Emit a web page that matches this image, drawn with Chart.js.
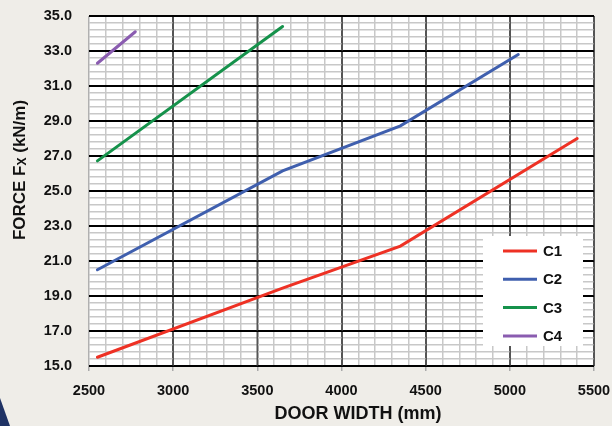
<!DOCTYPE html>
<html>
<head>
<meta charset="utf-8">
<script src="https://cdn.jsdelivr.net/npm/chart.js@4.4.1/dist/chart.umd.min.js"></script>
<style>
    html, body { margin: 0; padding: 0; background: #efede8; }
    #wrap { position: relative; width: 612px; height: 426px; }
    #corner {
        position: absolute; left: 0; top: 0; width: 612px; height: 426px;
        background: #1f3264;
        clip-path: polygon(0 398px, 10px 426px, 0 426px);
    }
    canvas { position: absolute; left: 0; top: 0; }
</style>
</head>
<body>
<div id="wrap">
    <div id="corner"></div>
    <canvas id="forceChart" width="612" height="426"></canvas>
</div>
<script>
// values
const seriesNames = ['C1', 'C2', 'C3', 'C4'];
const seriesColors = ['#ee3124', '#3f5fae', '#15924b', '#8a5cb0'];

const c1Width = [2550, 3650, 4350, 5400];
const c1Force = [15.5, 19.45, 21.85, 28.0];
const c2Width = [2550, 3650, 4350, 5050];
const c2Force = [20.5, 26.15, 28.72, 32.8];
const c3Width = [2550, 3650];
const c3Force = [26.72, 34.4];
const c4Width = [2550, 2775];
const c4Force = [32.3, 34.1];

const widths = [c1Width, c2Width, c3Width, c4Width];
const forces = [c1Force, c2Force, c3Force, c4Force];

const xMin = 2500, xMax = 5500, xMinor = 100, xMajor = 500;
const yMin = 15, yMax = 35, yMinor = 0.4, yMajor = 2;

const isMajorY = v => Math.round((v - yMin) * 10) % Math.round(yMajor * 10) === 0;
const isMajorX = v => Math.round(v) % xMajor === 0;

const toPoints = (xs, ys) => xs.map((x, i) => ({ x: x, y: ys[i] }));

const plotBackground = {
    id: 'plotBackground',
    beforeDraw(chart) {
        const { ctx, chartArea: a } = chart;
        ctx.save();
        ctx.fillStyle = '#ffffff';
        ctx.fillRect(a.left, a.top, a.right - a.left, a.bottom - a.top);
        ctx.restore();
    }
};

// put the major grid lines back on top of the minor ones
const majorGrid = {
    id: 'majorGrid',
    beforeDatasetsDraw(chart) {
        const { ctx, chartArea: a, scales } = chart;
        ctx.save();
        ctx.lineWidth = 1.5;
        ctx.strokeStyle = '#555555';
        for (let v = xMin + xMajor; v <= xMax; v += xMajor) {
            const px = Math.round(scales.x.getPixelForValue(v)) + 0.25;
            ctx.beginPath();
            ctx.moveTo(px, a.top);
            ctx.lineTo(px, a.bottom);
            ctx.stroke();
        }
        ctx.strokeStyle = '#000000';
        for (let v = yMin; v <= yMax + 0.001; v += yMajor) {
            const py = Math.round(scales.y.getPixelForValue(v)) + 0.25;
            ctx.beginPath();
            ctx.moveTo(a.left, py);
            ctx.lineTo(a.right, py);
            ctx.stroke();
        }
        ctx.restore();
    }
};

// axis titles (y title needs a subscript X)
const axisTitles = {
    id: 'axisTitles',
    afterDraw(chart) {
        const { ctx } = chart;
        ctx.save();
        ctx.fillStyle = '#111';
        ctx.textBaseline = 'middle';
        ctx.font = 'bold 18px "Liberation Sans", Arial, sans-serif';
        ctx.textAlign = 'center';
        ctx.fillText('DOOR WIDTH (mm)', 358, 414);

        ctx.translate(20, 170);
        ctx.rotate(-Math.PI / 2);
        const big = 'bold 17px "Liberation Sans", Arial, sans-serif';
        const small = 'bold 12px "Liberation Sans", Arial, sans-serif';
        const p1 = 'FORCE F', p2 = 'X', p3 = ' (kN/m)';
        ctx.font = big;
        const w1 = ctx.measureText(p1).width, w3 = ctx.measureText(p3).width;
        ctx.font = small;
        const w2 = ctx.measureText(p2).width;
        let x = -(w1 + w2 + w3) / 2;
        ctx.textAlign = 'left';
        ctx.font = big;
        ctx.fillText(p1, x, 0);
        x += w1;
        ctx.font = small;
        ctx.fillText(p2, x, 3);
        x += w2;
        ctx.font = big;
        ctx.fillText(p3, x, 0);
        ctx.restore();
    }
};

const boxLegend = {
    id: 'boxLegend',
    afterDatasetsDraw(chart) {
        const { ctx } = chart;
        ctx.save();
        ctx.fillStyle = '#ffffff';
        ctx.fillRect(483, 236, 100, 110);
        ctx.font = 'bold 15px "Liberation Sans", Arial, sans-serif';
        ctx.textBaseline = 'middle';
        ctx.textAlign = 'left';
        chart.data.datasets.forEach((ds, i) => {
            const y = 251 + i * 28.3;
            ctx.strokeStyle = ds.borderColor;
            ctx.lineWidth = 3;
            ctx.beginPath();
            ctx.moveTo(503, y);
            ctx.lineTo(537, y);
            ctx.stroke();
            ctx.fillStyle = '#111';
            ctx.fillText(ds.label, 543, y + 1);
        });
        ctx.restore();
    }
};

const tickFont = { family: '"Liberation Sans", Arial, sans-serif', size: 14.5, weight: 'bold' };

new Chart(document.getElementById('forceChart'), {
    type: 'line',
    data: {
        datasets: seriesNames.map((name, i) => ({
            label: name,
            data: toPoints(widths[i], forces[i]),
            borderColor: seriesColors[i],
            borderWidth: 3,
            borderCapStyle: 'round',
            pointRadius: 0,
            tension: 0,
            fill: false
        }))
    },
    options: {
        responsive: false,
        animation: false,
        layout: { padding: { top: 16, right: 18, left: 0, bottom: 0 } },
        scales: {
            x: {
                type: 'linear',
                min: xMin,
                max: xMax,
                afterFit: s => {
                    s.height = 60;
                    s.paddingLeft = 0;
                    s.paddingRight = 0;
                },
                border: { display: false },
                ticks: {
                    stepSize: xMinor,
                    autoSkip: false,
                    maxRotation: 0,
                    padding: 11,
                    color: '#111',
                    font: tickFont,
                    callback: v => isMajorX(v) ? String(v) : ''
                },
                grid: {
                    lineWidth: 1.5,
                    color: c => {
                        const v = c.tick.value;
                        if (v === xMin) return '#b0b0b0';
                        return isMajorX(v) ? '#555555' : '#c8c8c8';
                    },
                    tickLength: 5,
                    tickWidth: 1.5,
                    tickColor: c => isMajorX(c.tick.value) ? '#aaaaaa' : 'rgba(0,0,0,0)'
                }
            },
            y: {
                type: 'linear',
                min: yMin,
                max: yMax,
                afterFit: s => {
                    s.width = 89;
                    s.paddingTop = 0;
                    s.paddingBottom = 0;
                },
                border: { display: false },
                ticks: {
                    stepSize: yMinor,
                    autoSkip: false,
                    padding: 17,
                    color: '#111',
                    font: tickFont,
                    callback: v => isMajorY(v) ? v.toFixed(1) : ''
                },
                grid: {
                    lineWidth: 1.5,
                    drawTicks: false,
                    color: c => isMajorY(c.tick.value) ? '#000000' : '#c8c8c8'
                }
            }
        },
        plugins: {
            legend: { display: false },
            tooltip: { enabled: false }
        }
    },
    plugins: [plotBackground, majorGrid, axisTitles, boxLegend]
});
</script>
</body>
</html>
